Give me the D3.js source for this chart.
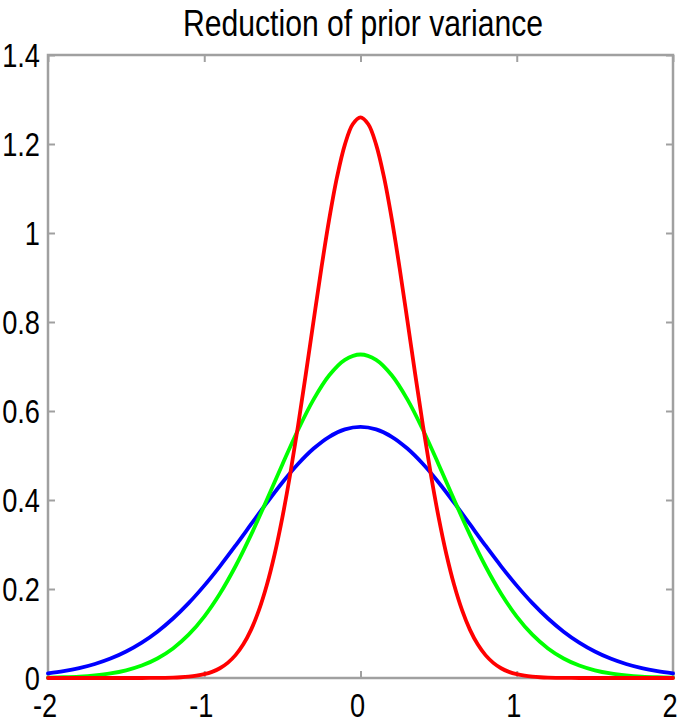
<!DOCTYPE html>
<html><head><meta charset="utf-8">
<script src="https://cdn.jsdelivr.net/npm/d3@7"></script>
<style>body{margin:0;background:#fff;} text{font-family:"Liberation Sans",Arial,sans-serif;}</style>
</head><body>
<script>
const title = "Reduction of prior variance";
const xTicks = [-2, -1, 0, 1, 2];
const xTickLabels = ["-2", "-1", "0", "1", "2"];
const yTicks = [0, 0.2, 0.4, 0.6, 0.8, 1, 1.2, 1.4];
const yTickLabels = ["0", "0.2", "0.4", "0.6", "0.8", "1", "1.2", "1.4"];
const xCoarse = [-2,-1.9,-1.8,-1.7,-1.6,-1.5,-1.4,-1.3,-1.2,-1.1,-1,-0.9,-0.8,-0.7,-0.6,-0.5,-0.4,-0.3,-0.2,-0.1,0,0.1,0.2,0.3,0.4,0.5,0.6,0.7,0.8,0.9,1,1.1,1.2,1.3,1.4,1.5,1.6,1.7,1.8,1.9,2];
const blue = [0.0103,0.0153,0.0221,0.0314,0.0436,0.0595,0.0795,0.1041,0.1337,0.1682,0.2076,0.2510,0.2975,0.3456,0.3936,0.4394,0.4808,0.5156,0.5421,0.5586,0.5642,0.5586,0.5421,0.5156,0.4808,0.4394,0.3936,0.3456,0.2975,0.2510,0.2076,0.1682,0.1337,0.1041,0.0795,0.0595,0.0436,0.0314,0.0221,0.0153,0.0103];
const green = [0.0009,0.0018,0.0033,0.0060,0.0103,0.0173,0.0280,0.0439,0.0665,0.0974,0.1381,0.1893,0.2511,0.3222,0.3998,0.4800,0.5573,0.6261,0.6803,0.7150,0.7270,0.7150,0.6803,0.6261,0.5573,0.4800,0.3998,0.3222,0.2511,0.1893,0.1381,0.0974,0.0665,0.0439,0.0280,0.0173,0.0103,0.0060,0.0033,0.0018,0.0009];
const xFine = [-2,-1.95,-1.9,-1.85,-1.8,-1.75,-1.7,-1.65,-1.6,-1.55,-1.5,-1.45,-1.4,-1.35,-1.3,-1.25,-1.2,-1.15,-1.1,-1.05,-1,-0.95,-0.9,-0.85,-0.8,-0.75,-0.7,-0.65,-0.6,-0.55,-0.5,-0.45,-0.4,-0.35,-0.3,-0.25,-0.2,-0.15,-0.1,-0.05,0,0.05,0.1,0.15,0.2,0.25,0.3,0.35,0.4,0.45,0.5,0.55,0.6,0.65,0.7,0.75,0.8,0.85,0.9,0.95,1,1.05,1.1,1.15,1.2,1.25,1.3,1.35,1.4,1.45,1.5,1.55,1.6,1.65,1.7,1.75,1.8,1.85,1.9,1.95,2];
const red = [0,0,0,0,0,0,0,0,0,0,0,0,0,0.0001,0.0003,0.0005,0.0009,0.0017,0.0030,0.0051,0.0085,0.0138,0.0219,0.0340,0.0514,0.0757,0.1087,0.1524,0.2083,0.2776,0.3610,0.4578,0.5662,0.6829,0.8034,0.9218,1.0316,1.1259,1.1986,1.2444,1.2600,1.2444,1.1986,1.1259,1.0316,0.9218,0.8034,0.6829,0.5662,0.4578,0.3610,0.2776,0.2083,0.1524,0.1087,0.0757,0.0514,0.0340,0.0219,0.0138,0.0085,0.0051,0.0030,0.0017,0.0009,0.0005,0.0003,0.0001,0,0,0,0,0,0,0,0,0,0,0,0,0];

const W = 685, H = 724;
const m = {l: 48, r: 12, t: 55, b: 46};
const svg = d3.select("body").append("svg").attr("width", W).attr("height", H);
const x = d3.scaleLinear().domain([-2, 2]).range([m.l, W - m.r]);
const y = d3.scaleLinear().domain([0, 1.4]).range([H - m.b, m.t]);
const frameColor = "#a0a0a0";
const tickLen = 7;
const squeeze = 0.8;
const fs = 34;

// frame
svg.append("rect").attr("x", x(-2)).attr("y", y(1.4)).attr("width", x(2) - x(-2)).attr("height", y(0) - y(1.4))
  .attr("fill", "none").attr("stroke", frameColor).attr("stroke-width", 2.5);

// inward ticks on all four sides (labels drawn separately)
const gx = svg.append("g").attr("transform", `translate(0,${y(0)})`)
  .call(d3.axisBottom(x).tickValues(xTicks).tickSize(-tickLen).tickFormat(""));
const gxTop = svg.append("g").attr("transform", `translate(0,${y(1.4)})`)
  .call(d3.axisTop(x).tickValues(xTicks).tickSize(-tickLen).tickFormat(""));
const gy = svg.append("g").attr("transform", `translate(${x(-2)},0)`)
  .call(d3.axisLeft(y).tickValues(yTicks).tickSize(-tickLen).tickFormat(""));
const gyR = svg.append("g").attr("transform", `translate(${x(2)},0)`)
  .call(d3.axisRight(y).tickValues(yTicks).tickSize(-tickLen).tickFormat(""));
[gx, gxTop, gy, gyR].forEach(g => {
  g.select(".domain").remove();
  g.selectAll(".tick line").attr("stroke", frameColor).attr("stroke-width", 2);
  g.selectAll("text").remove();
});

// condensed tick labels
svg.append("g").selectAll("text").data(yTicks).join("text")
  .attr("transform", d => `translate(${x(-2) - 8},${y(d) + 12}) scale(${squeeze},1)`)
  .attr("text-anchor", "end").style("font-size", fs + "px").attr("fill", "#000")
  .text((d, i) => yTickLabels[i]);
svg.append("g").selectAll("text").data(xTicks).join("text")
  .attr("transform", d => `translate(${x(d) - 3},${y(0) + 39}) scale(${squeeze},1)`)
  .attr("text-anchor", "middle").style("font-size", fs + "px").attr("fill", "#000")
  .text((d, i) => xTickLabels[i]);

const series = [
  {xs: xCoarse, ys: blue, color: "#0000ff"},
  {xs: xCoarse, ys: green, color: "#00ff00"},
  {xs: xFine, ys: red, color: "#ff0000"}
];
series.forEach(s => {
  const line = d3.line().x(d => x(d[0])).y(d => y(d[1])).curve(d3.curveCatmullRom.alpha(0.5));
  svg.append("path").datum(s.xs.map((v, i) => [v, s.ys[i]]))
    .attr("d", line).attr("fill", "none").attr("stroke", s.color)
    .attr("stroke-width", 3.8).attr("stroke-linejoin", "round").attr("stroke-linecap", "round");
});

svg.append("text").attr("x", 183).attr("y", 36)
  .attr("textLength", 360).attr("lengthAdjust", "spacingAndGlyphs")
  .style("font-size", "36px").attr("fill", "#000").text(title);
</script>
</body></html>
